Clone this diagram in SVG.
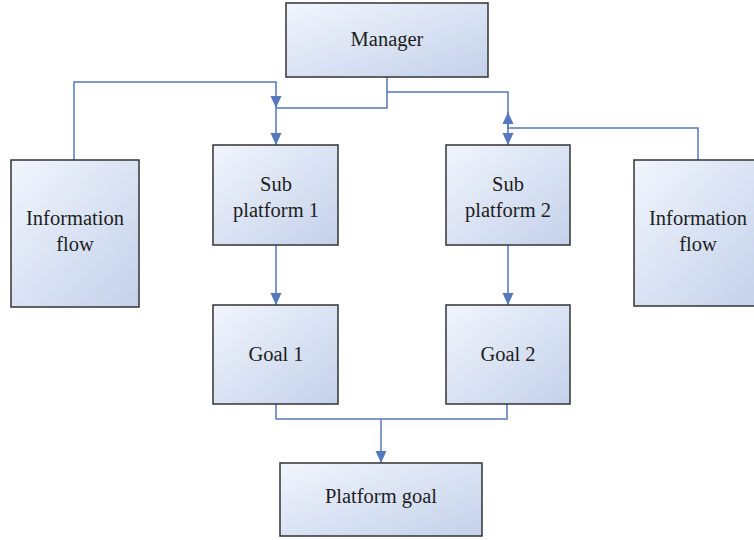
<svg xmlns="http://www.w3.org/2000/svg" width="754" height="540" viewBox="0 0 754 540">
<style>
.box{fill:url(#g);stroke:#333333;stroke-width:1.5}
.t{font-family:"Liberation Serif",serif;font-size:20.5px;fill:#1e1e1e;text-anchor:middle}
.c{fill:none;stroke:#5479c0;stroke-width:1.5}
</style>
<defs>
<linearGradient id="g" x1="0" y1="0" x2="1" y2="1">
<stop offset="0" stop-color="#f1f5fd"/>
<stop offset="1" stop-color="#c3d1ea"/>
</linearGradient>
<marker id="a" viewBox="0 0 12 12" refX="12" refY="6" markerWidth="12" markerHeight="12" markerUnits="userSpaceOnUse" orient="auto">
<path d="M0,0.5 L12,6 L0,11.5 z" fill="#5479c0"/>
</marker>
</defs>
<g id="connectors">
<path class="c" d="M387,77 V108 H276" />
<path class="c" d="M74,160 V82 H276 V108" marker-end="url(#a)"/>
<path class="c" d="M276,108 V145" marker-end="url(#a)"/>
<path class="c" d="M387,92 H508 V145" marker-end="url(#a)"/>
<path class="c" d="M698,160 V128 H508 V112" marker-end="url(#a)"/>
<path class="c" d="M276,245 V305" marker-end="url(#a)"/>
<path class="c" d="M508,245 V305" marker-end="url(#a)"/>
<path class="c" d="M276,404 V419 H507 V404"/>
<path class="c" d="M381,419 V463" marker-end="url(#a)"/>
</g>
<g id="manager"><rect class="box" x="286" y="3" width="202" height="74"/><text class="t" x="387" y="46">Manager</text></g>
<g id="info-left"><rect class="box" x="11" y="160" width="128" height="147"/><text class="t" x="75" y="225">Information</text><text class="t" x="75" y="251">flow</text></g>
<g id="sub1"><rect class="box" x="213" y="145" width="125" height="100"/><text class="t" x="276" y="191">Sub</text><text class="t" x="276" y="217">platform 1</text></g>
<g id="sub2"><rect class="box" x="446" y="145" width="124" height="100"/><text class="t" x="508" y="191">Sub</text><text class="t" x="508" y="217">platform 2</text></g>
<g id="info-right"><rect class="box" x="634" y="160" width="126" height="146"/><text class="t" x="698" y="225">Information</text><text class="t" x="698" y="251">flow</text></g>
<g id="goal1"><rect class="box" x="213" y="305" width="125" height="99"/><text class="t" x="276" y="361">Goal 1</text></g>
<g id="goal2"><rect class="box" x="446" y="305" width="124" height="99"/><text class="t" x="508" y="361">Goal 2</text></g>
<g id="platform-goal"><rect class="box" x="280" y="463" width="202" height="73"/><text class="t" x="381" y="503">Platform goal</text></g>
</svg>
